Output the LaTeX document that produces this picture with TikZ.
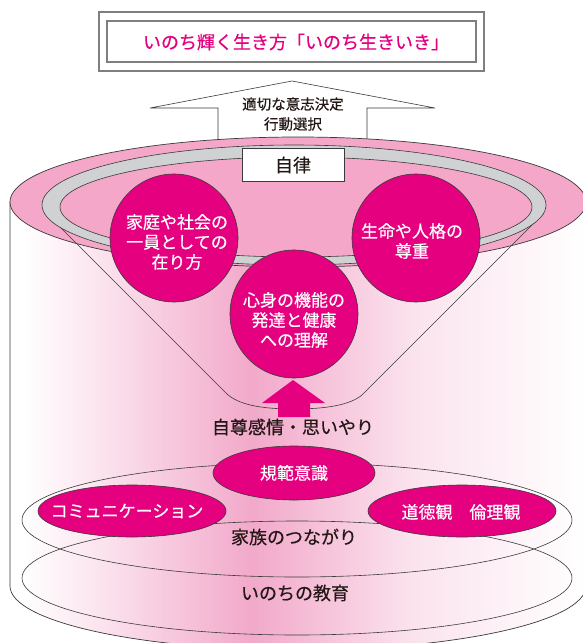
\documentclass[tikz,border=0pt]{standalone}
\usepackage{fontspec}
\setmainfont{Noto Sans CJK JP}[FakeBold=0.5]
\definecolor{mag}{HTML}{E4007F}
\definecolor{pktop}{HTML}{F4A7C9}
\definecolor{pkmid}{HTML}{F2A9CA}
\definecolor{pklight}{HTML}{FBE3EE}
\definecolor{ringgray}{HTML}{D0D1D2}
\definecolor{ink}{HTML}{231815}
\definecolor{edge}{HTML}{3A3A3A}
\definecolor{boxgray}{HTML}{7F7F7F}
\pgfdeclarehorizontalshading{cylshade}{100bp}{color(0bp)=(white); color(26bp)=(white); color(33bp)=(pklight); color(46bp)=(pkmid); color(60bp)=(pklight); color(75bp)=(white); color(100bp)=(white)}
\begin{document}
\begin{tikzpicture}[x=1pt,y=-1pt,
  edgeln/.style={draw=edge, line width=0.6pt},
  jtext/.style={text=ink, inner sep=0pt, align=center, font=\fontsize{18}{20}\selectfont},
  wtext/.style={text=white, inner sep=0pt, align=center, font=\fontsize{17}{20}\selectfont},
  bubble/.style={circle, fill=mag, draw=edge, line width=0.6pt, minimum size=128pt, inner sep=0pt},
  pill/.style={fill=mag, draw=edge, line width=0.6pt},
  boxln/.style={draw=boxgray, line width=1.3pt, inner sep=0pt}
]
\useasboundingbox (0,0) rectangle (583,643);
\clip (0,0) rectangle (583,643);

% title boxes
\node[boxln, minimum width=385pt, minimum height=59pt] (outerbox) at (291.5,41.5) {};
\node[boxln, minimum width=369pt, minimum height=41pt] (innerbox) at (291.5,41.5) {};
\node[text=mag, inner sep=0pt, font=\fontsize{18}{20}\selectfont] (title) at (296,42) {いのち輝く生き方「いのち生きいき」};

% white arrow
\draw[edgeln, fill=white] (218,145) -- (218,108) -- (150,108) -- (292,81) -- (435,108) -- (367,108) -- (367,145);
\node[jtext, font=\fontsize{14.5}{20}\selectfont] (choice) at (293,114) {適切な意志決定\\行動選択};

% cylinder body
\path[shade, shading=cylshade, draw=edge, line width=0.7pt] (10,202) -- (10,586) arc[start angle=180, end angle=0, x radius=288, y radius=64] -- (586,202) -- cycle;
% top ellipse
\path[fill=pktop, draw=edge, line width=0.7pt] (298,202) ellipse [x radius=288, y radius=65];

% funnel
\draw[edgeln] (46,213) -- (226,393) .. controls (238,405) and (262,409) .. (294,409) .. controls (326,409) and (350,405) .. (362,395) -- (544,213);

% ring
\path[fill=ringgray, draw=edge, line width=0.6pt] (294,205) ellipse [x radius=252, y radius=60];
\path[fill=pktop, draw=edge, line width=0.6pt] (296,207) ellipse [x radius=236, y radius=50];

% autonomy box
\node[jtext, draw=edge, fill=white, line width=0.7pt, minimum width=102pt, minimum height=33pt] (jiritsu) at (293,165) {自律};

% circles
\node[bubble] (c1) at (174,238) {};
\node[bubble] (c3) at (416,238) {};
\node[bubble] (c2) at (294,314) {};
\node[wtext] (t1) at (177,242) {家庭や社会の\\一員としての\\在り方};
\node[wtext] (t3) at (412,241) {生命や人格の\\尊重};
\node[wtext] (t2) at (294,320) {心身の機能の\\発達と健康\\への理解};

% magenta arrow
\path[fill=mag] (278,417) -- (278,403) -- (262,403) -- (293,380) -- (325,403) -- (310,403) -- (310,417) -- cycle;
\node[jtext] (selfesteem) at (293,427) {自尊感情・思いやり};

% lower ellipses
\draw[edgeln] (297,520) ellipse [x radius=275, y radius=57];
\draw[edgeln] (297,578) ellipse [x radius=275, y radius=57];
\path[pill] (294,473) ellipse [x radius=81, y radius=27];
\path[pill] (132,511) ellipse [x radius=94, y radius=26];
\path[pill] (462,511) ellipse [x radius=94, y radius=26];
\node[wtext] (norm) at (294,473) {規範意識};
\node[wtext] (comm) at (127,511) {コミュニケーション};
\node[wtext] (moral) at (461,512) {道徳観　倫理観};
\node[jtext] (family) at (294,537) {家族のつながり};
\node[jtext] (inochi) at (295,593) {いのちの教育};
\end{tikzpicture}
\end{document}
